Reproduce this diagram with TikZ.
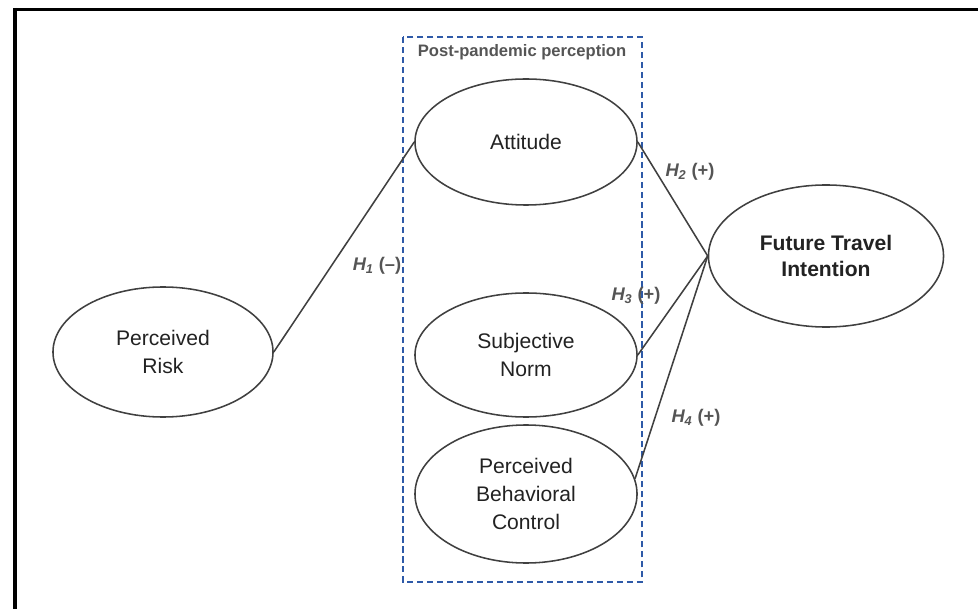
\documentclass[tikz,border=0pt]{standalone}
\usepackage{fontspec}
\setmainfont{Liberation Sans}
\usepackage{tikz}
\definecolor{linegray}{HTML}{404040}
\definecolor{textgray}{HTML}{222222}
\definecolor{labelgray}{HTML}{555555}
\definecolor{groupblue}{HTML}{2E5AA8}
\tikzset{
    construct/.style={draw=linegray, ellipse, line width=1.1pt, text=textgray, align=center, font=\fontsize{15}{20}\selectfont, inner sep=0pt},
    outcome/.style={construct, font=\fontsize{15}{18}\selectfont\bfseries},
    group/.style={draw=groupblue, line width=0.9pt, dash pattern=on 4.5pt off 2.6pt},
    grouptitle/.style={text=labelgray, font=\fontsize{11.8}{14}\selectfont\bfseries},
    hyp/.style={text=labelgray, font=\fontsize{13}{15}\selectfont\bfseries},
    link/.style={draw=linegray, line width=1.1pt} }
\usetikzlibrary{shapes.geometric}
\newcommand{\hyplabel}[2]{{\itshape H\textsubscript{#1}} (#2)}

\begin{document}
\begin{tikzpicture}[x=0.025cm, y=-0.025cm]
			\useasboundingbox (0,0) rectangle (978,609);
			\draw[line width=0.075cm] (13.5,9.5) -- (978,9.5);
			\draw[line width=0.09cm] (15,8) -- (15,609);
			% ----
			\draw[group] (403,37) rectangle (642,582);
			\node[grouptitle] (TITLE) at (522,52) {Post-pandemic perception};
			% ----
			\node[construct, minimum width=5.5cm, minimum height=3.25cm] (PR) at (163,352) {Perceived\\Risk};
			\node[construct, minimum width=5.55cm, minimum height=3.15cm] (ATT) at (526,142) {Attitude};
			\node[construct, minimum width=5.55cm, minimum height=3.1cm] (SN) at (526,355) {Subjective\\Norm};
			\node[construct, minimum width=5.55cm, minimum height=3.45cm] (PBC) at (526,494) {Perceived\\Behavioral\\Control};
			\node[outcome, minimum width=5.875cm, minimum height=3.55cm] (FTI) at (826,256) {Future Travel\\Intention};
			% ----
			\draw[link] (PR.east) -- (ATT.west);
			\draw[link] (ATT.east) -- (FTI.west);
			\draw[link] (SN.east) -- (FTI.west);
			\draw[link] (PBC.8) -- (FTI.west);
			% ----
			\node[hyp] (H1) at (377,266) {\hyplabel{1}{--}};
			\node[hyp] (H2) at (690,172) {\hyplabel{2}{+}};
			\node[hyp] (H3) at (636,296) {\hyplabel{3}{+}};
			\node[hyp] (H4) at (696,418) {\hyplabel{4}{+}};
		\end{tikzpicture}
\end{document}
